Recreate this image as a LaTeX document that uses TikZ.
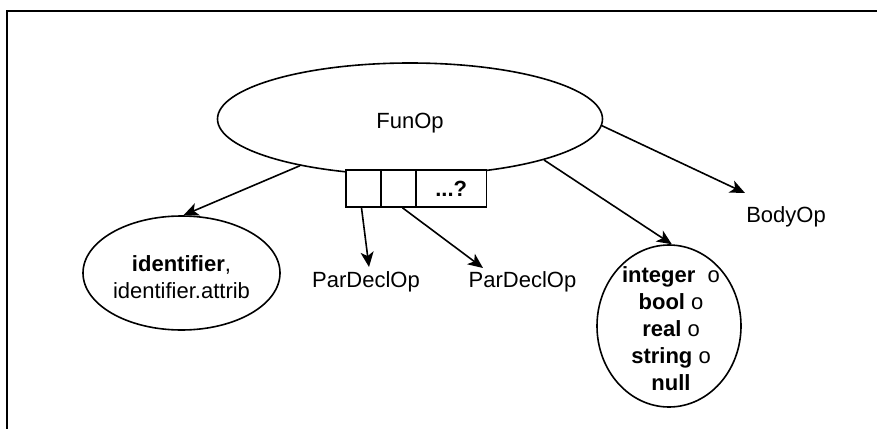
\documentclass[tikz,border=0pt]{standalone}
\usepackage{fontspec}
\setmainfont{Liberation Sans}
\usetikzlibrary{shapes.geometric,arrows.meta}
\begin{document}
\begin{tikzpicture}[x=1pt,y=-1pt,
  every node/.style={font=\fontsize{22}{27}\selectfont},
  oval/.style={draw,ellipse,line width=1.6pt,inner sep=0pt},
  cell/.style={draw,rectangle,line width=1.6pt,fill=white,inner sep=0pt,minimum height=37pt},
  lbl/.style={inner sep=0pt},
  arr/.style={line width=1.6pt,-{Stealth[length=15pt,width=13pt,inset=4pt]}}]
\useasboundingbox (0,0) rectangle (877,428);
\draw[line width=2pt] (6.5,430) -- (6.5,11) -- (880,11);
% main oval
\node[oval,minimum width=385pt,minimum height=112pt] (funop) at (410,119) {};
\node[lbl] (funlbl) at (410,123) {FunOp};
% parameter cells
\node[cell,minimum width=35pt] (c1) at (363.5,188.5) {};
\node[cell,minimum width=35pt] (c2) at (398.5,188.5) {};
\node[cell,minimum width=70.5pt] (c3) at (451.25,188.5) {\textbf{...?}};
% identifier oval
\node[oval,minimum width=197pt,minimum height=114pt] (ident) at (181.5,273) {};
\node[lbl,align=center] (identlbl) at (181.5,277) {\textbf{identifier},\\identifier.attrib};
% literal oval
\node[oval,minimum width=144pt,minimum height=162pt] (lit) at (669,326) {};
\node[lbl,align=center] (litlbl) at (671,329) {\textbf{integer}\ \ o\\\textbf{bool} o\\\textbf{real} o\\\textbf{string} o\\\textbf{null}};
% plain labels
\node[lbl] (pd1) at (366,282) {ParDeclOp};
\node[lbl] (pd2) at (522.5,282) {ParDeclOp};
\node[lbl] (body) at (786,217) {BodyOp};
\coordinate (t1) at (369,267);
\coordinate (t2) at (483,268);
\coordinate (tb) at (745,193);
% connectors
\draw[arr] (funop.203) -- (ident.88);
\draw[arr] (funop.343) -- (lit.88);
\draw[arr] (funop.358) -- (tb);
\draw[arr] ([xshift=-2pt]c1.south) -- (t1);
\draw[arr] ([xshift=4pt]c2.south) -- (t2);
\end{tikzpicture}
\end{document}
